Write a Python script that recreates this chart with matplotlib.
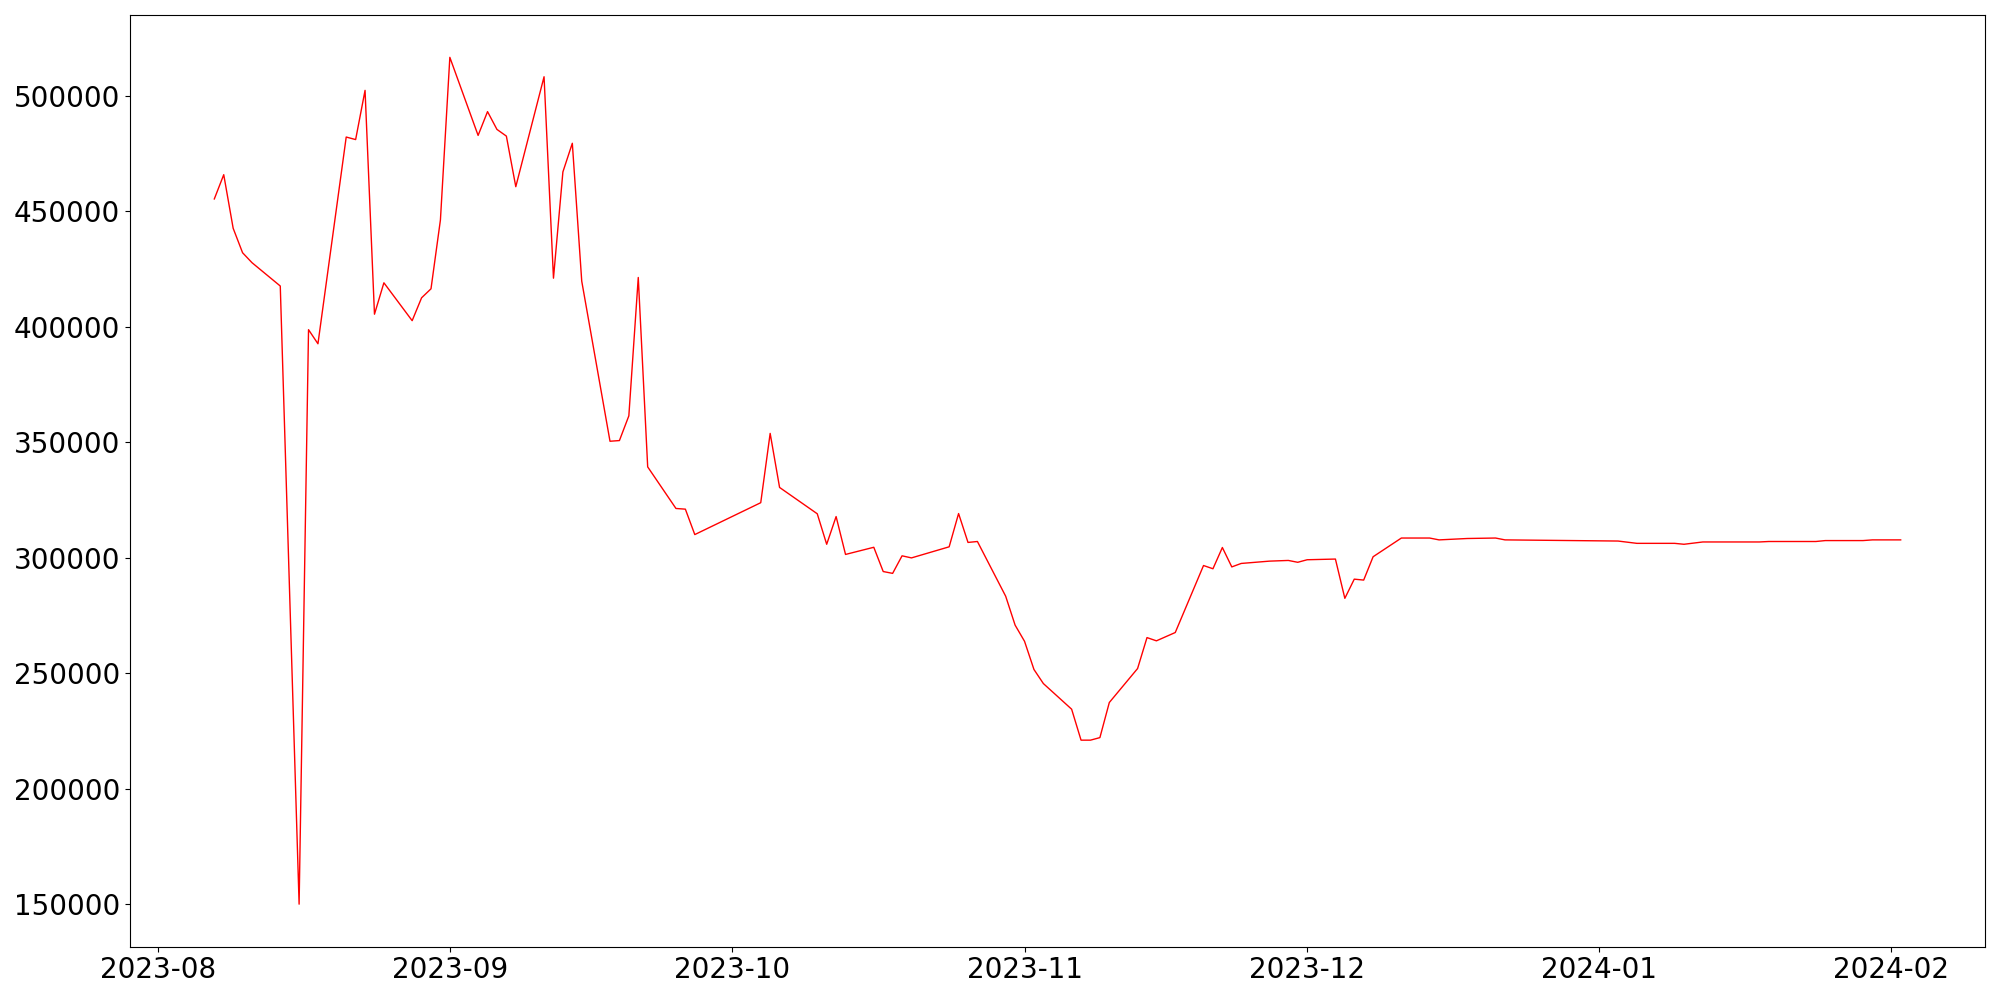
import matplotlib
matplotlib.use("Agg")
import matplotlib.pyplot as plt
import pandas as pd

# daily values (trading days with visible vertices)
dates = [
    "2023-08-07", "2023-08-08", "2023-08-09", "2023-08-10", "2023-08-11",
    "2023-08-14", "2023-08-16", "2023-08-17", "2023-08-18", "2023-08-21",
    "2023-08-22", "2023-08-23", "2023-08-24", "2023-08-25", "2023-08-28",
    "2023-08-29", "2023-08-30", "2023-08-31", "2023-09-01", "2023-09-04",
    "2023-09-05", "2023-09-06", "2023-09-07", "2023-09-08", "2023-09-11",
    "2023-09-12", "2023-09-13", "2023-09-14", "2023-09-15", "2023-09-18",
    "2023-09-19", "2023-09-20", "2023-09-21", "2023-09-22", "2023-09-25",
    "2023-09-26", "2023-09-27", "2023-10-04", "2023-10-05", "2023-10-06",
    "2023-10-10", "2023-10-11", "2023-10-12", "2023-10-13", "2023-10-16",
    "2023-10-17", "2023-10-18", "2023-10-19", "2023-10-20", "2023-10-24",
    "2023-10-25", "2023-10-26", "2023-10-27", "2023-10-30", "2023-10-31",
    "2023-11-01", "2023-11-02", "2023-11-03", "2023-11-06", "2023-11-07",
    "2023-11-08", "2023-11-09", "2023-11-10", "2023-11-13", "2023-11-14",
    "2023-11-15", "2023-11-17", "2023-11-20", "2023-11-21", "2023-11-22",
    "2023-11-23", "2023-11-24", "2023-11-27", "2023-11-29", "2023-11-30",
    "2023-12-01", "2023-12-04", "2023-12-05", "2023-12-06", "2023-12-07",
    "2023-12-08", "2023-12-11", "2023-12-14", "2023-12-15", "2023-12-18",
    "2023-12-21", "2023-12-22", "2024-01-03", "2024-01-05", "2024-01-09",
    "2024-01-10", "2024-01-12", "2024-01-18", "2024-01-19", "2024-01-24",
    "2024-01-25", "2024-01-29", "2024-01-30", "2024-02-02",
]
values = [
    455300, 465800, 442600, 432000, 427700,
    417600, 150000, 398700, 392600, 482100,
    481000, 502300, 405400, 419000, 402600,
    412500, 416400, 446200, 516600, 482800,
    493100, 485400, 482500, 460600, 508200,
    421000, 467000, 479400, 419700, 350400,
    350700, 361400, 421300, 339300, 321300,
    321000, 310000, 323800, 353800, 330400,
    319000, 305800, 317800, 301400, 304500,
    294000, 293200, 300800, 299900, 304700,
    319100, 306600, 307000, 283300, 270800,
    263800, 251600, 245500, 234400, 221000,
    221000, 222100, 237300, 252000, 265400,
    264000, 267600, 296600, 295200, 304400,
    296000, 297500, 298500, 298800, 298000,
    299100, 299400, 282400, 290700, 290300,
    300400, 308500, 308500, 307700, 308300,
    308500, 307700, 307200, 306200, 306200,
    305800, 306800, 306800, 307000, 307000,
    307400, 307400, 307700, 307700,
]

x = pd.to_datetime(dates)

fig, ax = plt.subplots(figsize=(20, 10), dpi=100)
ax.plot(x, values, color="red", linewidth=1.0)
ax.tick_params(labelsize=20)
fig.subplots_adjust(left=0.065, right=0.9925, top=0.985, bottom=0.0535)
fig.savefig("out.png", dpi=100)
